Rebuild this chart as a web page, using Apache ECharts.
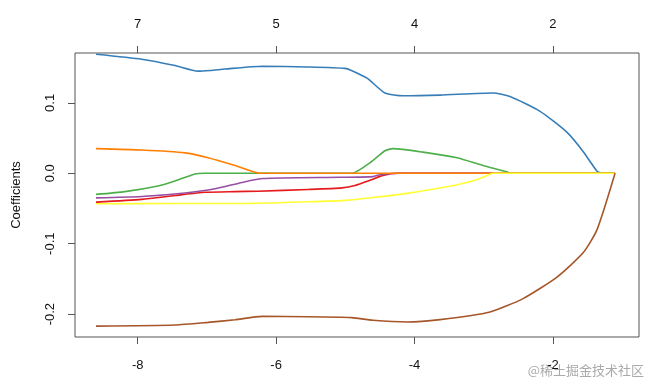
<!DOCTYPE html>
<html>
<head>
<meta charset="utf-8">
<script src="https://cdn.jsdelivr.net/npm/echarts@6/dist/echarts.min.js"></script>
<style>
html,body{margin:0;padding:0;background:#fff;}
#chart{width:649px;height:385px;}
</style>
</head>
<body>
<div id="chart"></div>
<script>
// log(lambda) tick positions and labels
const bottomTicks = [-8, -6, -4, -2];
const topTickLabels = ['7', '5', '4', '2'];
const yTicks = [-0.2, -0.1, 0.0, 0.1];

// coefficient paths: [log lambda, coefficient]
const redCoef = [[-8.603,-0.041],[-7.942,-0.037],[-7.461,-0.0316],[-7.027,-0.027],[-6.60,-0.026],[-6.262,-0.0255],[-5.539,-0.023],[-5.048,-0.0207],[-4.860,-0.0174],[-4.643,-0.010],[-4.455,-0.003],[-4.253,0],[-1.103,0]];
const blueCoef = [[-8.603,0.169],[-7.942,0.162],[-7.461,0.153],[-7.129,0.145],[-6.95,0.146],[-6.738,0.148],[-6.204,0.152],[-5.539,0.151],[-5.004,0.149],[-4.889,0.145],[-4.686,0.135],[-4.427,0.114],[-4.167,0.110],[-3.632,0.111],[-2.866,0.114],[-2.621,0.109],[-2.186,0.088],[-1.796,0.058],[-1.565,0.031],[-1.363,0.003],[-1.290,0],[-1.103,0]];
const greenCoef = [[-8.603,-0.030],[-8.184,-0.026],[-7.707,-0.018],[-7.461,-0.011],[-7.172,-0.001],[-7.027,0],[-4.903,0],[-4.643,0.015],[-4.427,0.032],[-4.311,0.035],[-3.877,0.030],[-3.386,0.022],[-3.010,0.011],[-2.663,0.002],[-2.621,0],[-1.103,0]];
const purpleCoef = [[-8.603,-0.035],[-7.942,-0.033],[-7.316,-0.028],[-6.883,-0.022],[-6.493,-0.013],[-6.189,-0.0075],[-5.077,-0.0057],[-4.600,-0.0047],[-4.499,-0.002],[-4.181,0],[-1.103,0]];
const orangeCoef = [[-8.603,0.035],[-7.942,0.033],[-7.316,0.029],[-6.984,0.022],[-6.594,0.011],[-6.233,0],[-1.103,0]];
const yellowCoef = [[-8.603,-0.0433],[-7.461,-0.0429],[-6.493,-0.0429],[-5.539,-0.0405],[-5.0,-0.0385],[-4.6,-0.0345],[-4.109,-0.0285],[-3.632,-0.021],[-3.2,-0.012],[-3.01,-0.0057],[-2.866,0],[-1.103,0]];
const brownCoef = [[-8.603,-0.217],[-7.461,-0.2155],[-6.984,-0.2117],[-6.594,-0.208],[-6.204,-0.2032],[-5.539,-0.2038],[-5.077,-0.2045],[-4.903,-0.205],[-4.600,-0.2088],[-4.109,-0.2112],[-3.632,-0.2078],[-2.909,-0.1969],[-2.432,-0.178],[-1.941,-0.1474],[-1.565,-0.113],[-1.363,-0.080],[-1.103,0]];

const seriesDefs = [
  {name:'V1', data: redCoef, color:'#E41A1C'},
  {name:'V2', data: blueCoef, color:'#377EB8'},
  {name:'V3', data: greenCoef, color:'#4DAF4A'},
  {name:'V4', data: purpleCoef, color:'#984EA3'},
  {name:'V5', data: orangeCoef, color:'#FF7F00'},
  {name:'V6', data: yellowCoef, color:'#FFFF33'},
  {name:'V7', data: brownCoef, color:'#A65628'}
];

const FONT = 'Liberation Sans, Arial, sans-serif';
const chart = echarts.init(document.getElementById('chart'));
const xMin = -8.906, xMax = -0.757;
const tickStyle = {color: '#555'};
chart.setOption({
  animation: false,
  backgroundColor: '#fff',
  grid: {left: 75, right: 10, top: 53, bottom: 48, show: true, borderColor: '#555', borderWidth: 1, backgroundColor: 'transparent'},
  xAxis: [
    {
      type: 'value', position: 'bottom', min: xMin, max: xMax,
      axisLine: {show: false, onZero: false},
      splitLine: {show: false},
      axisTick: {show: true, length: 7, customValues: bottomTicks, lineStyle: tickStyle},
      axisLabel: {customValues: bottomTicks, margin: 22, fontSize: 13, color: '#111', fontFamily: FONT,
        formatter: v => String(v)}
    },
    {
      type: 'value', position: 'top', min: xMin, max: xMax,
      axisLine: {show: false, onZero: false},
      splitLine: {show: false},
      axisTick: {show: true, length: 7, customValues: bottomTicks, lineStyle: tickStyle},
      axisLabel: {customValues: bottomTicks, margin: 22, fontSize: 13, color: '#111', fontFamily: FONT,
        formatter: v => topTickLabels[bottomTicks.indexOf(Math.round(v))]}
    }
  ],
  yAxis: {
    type: 'value', min: -0.2325, max: 0.1708,
    name: 'Coefficients', nameLocation: 'middle', nameGap: 52,
    nameTextStyle: {fontSize: 13, color: '#111', fontFamily: FONT},
    axisLine: {show: false, onZero: false},
    splitLine: {show: false},
    axisTick: {show: true, length: 7, customValues: yTicks, lineStyle: tickStyle},
    axisLabel: {customValues: yTicks, rotate: 90, margin: 18, fontSize: 13, color: '#111', fontFamily: FONT,
      formatter: v => v.toFixed(1)}
  },
  series: seriesDefs.map(s => ({
    name: s.name, type: 'line', xAxisIndex: 0, data: s.data,
    showSymbol: false, symbol: 'none', smooth: 0.2,
    lineStyle: {color: s.color, width: 1.6}, itemStyle: {color: s.color}
  })),
  graphic: [{
    type: 'text', right: 5, top: 364,
    style: {text: '@稀土掘金技术社区', fill: '#aaa', font: '13px "Noto Sans CJK SC", sans-serif'}
  }]
});
</script>
</body>
</html>
